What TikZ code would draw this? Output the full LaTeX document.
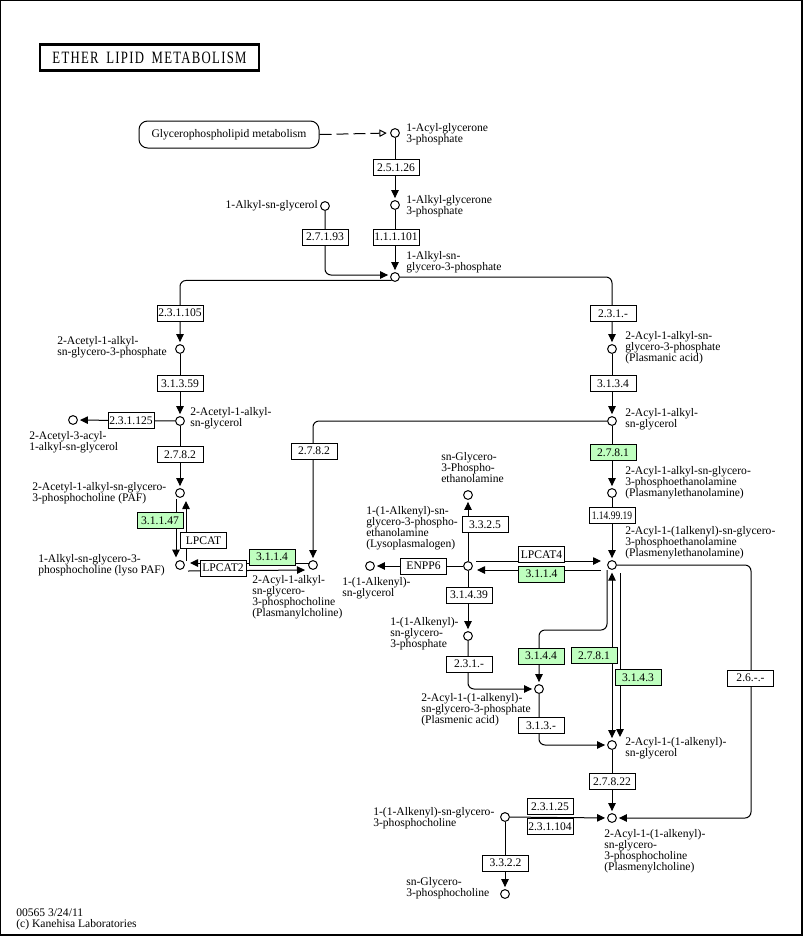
\documentclass[tikz,border=0pt]{standalone}
\usepackage{fontspec}
\setmainfont{Liberation Serif}
\usetikzlibrary{arrows.meta,calc}
\definecolor{kgreen}{HTML}{BFFFBF}
\pgfdeclarelayer{bg}
\pgfsetlayers{bg,main}
\newcommand{\kfont}{\fontsize{8.7}{8.25}\selectfont}
\tikzset{
  cpd/.style={draw, circle, fill=white, minimum size=6.6pt, inner sep=0pt, line width=0.75pt},
  ecbox/.style={draw, fill=white, minimum width=34.5pt, minimum height=12pt, inner sep=0pt, line width=0.75pt, font=\kfont},
  ecgreen/.style={ecbox, fill=kgreen},
  lbl/.style={inner sep=0pt, align=left, font=\kfont},
  rx/.style={line width=0.75pt, ->, shorten >=1.5pt},
  rxc/.style={rx, rounded corners=4.5pt},
}
\begin{document}
\begin{tikzpicture}[x=0.75pt,y=-0.75pt,>={Triangle[length=6pt,width=5.6pt]}]
\useasboundingbox (0,0) rectangle (803,936);
\draw[line width=1.1pt] (0.7,0.7) rectangle (802.2,935.2);

\node[draw, line width=1.7pt, minimum width=164.25pt, minimum height=19.5pt, inner sep=0pt] (title) at (149.5,57.5)
  {\resizebox{145.5pt}{8.6pt}{\addfontfeature{LetterSpace=10}ETHER\hspace{0.6em}LIPID\hspace{0.6em}METABOLISM}};
\node[draw, rounded corners=6.5pt, minimum width=135pt, minimum height=20.25pt, inner sep=0pt, line width=0.75pt, font=\kfont] (map) at (229,134.5) {Glycerophospholipid metabolism};

% compounds
\node[cpd] (c1) at (395,133) {};
\node[cpd] (c2) at (395,205) {};
\node[cpd] (c3) at (325,206) {};
\node[cpd] (c4) at (395,277) {};
\node[cpd] (c5) at (180,349) {};
\node[cpd] (c6) at (180,421) {};
\node[cpd] (c7) at (73,420) {};
\node[cpd] (c8) at (180,493) {};
\node[cpd] (c9) at (180,565) {};
\node[cpd] (c10) at (313,565) {};
\node[cpd] (c11) at (612,349) {};
\node[cpd] (c12) at (612,421) {};
\node[cpd] (c13) at (612,493) {};
\node[cpd] (c14) at (612,565) {};
\node[cpd] (c15) at (468,566) {};
\node[cpd] (c16) at (468,495) {};
\node[cpd] (c17) at (370,566) {};
\node[cpd] (c18) at (468,636) {};
\node[cpd] (c19) at (539,689) {};
\node[cpd] (c20) at (612,745) {};
\node[cpd] (c21) at (612,818) {};
\node[cpd] (c22) at (505,817) {};
\node[cpd] (c23) at (505,894) {};

% enzymes
\node[ecbox] (e25126) at (396,167.5) {2.5.1.26};
\node[ecbox] (e27193) at (325,237) {2.7.1.93};
\node[ecbox] (e111101) at (396,237) {1.1.1.101};
\node[ecbox] (e231105) at (180,313) {2.3.1.105};
\node[ecbox] (e31359) at (180,383.5) {3.1.3.59};
\node[ecbox] (e231125) at (131,420.5) {2.3.1.125};
\node[ecbox] (e2782a) at (180,454.5) {2.7.8.2};
\node[ecgreen] (e31147) at (160,520.5) {3.1.1.47};
\node[ecbox] (elpcat) at (203.5,540.5) {LPCAT};
\node[ecbox] (elpcat2) at (223,568) {LPCAT2};
\node[ecgreen] (e3114a) at (272,557) {3.1.1.4};
\node[ecbox] (e2782b) at (314,451) {2.7.8.2};
\node[ecbox] (e231a) at (613,313.5) {2.3.1.-};
\node[ecbox] (e3134) at (613,383.5) {3.1.3.4};
\node[ecgreen] (e2781a) at (613,452.5) {2.7.8.1};
\node[ecbox] (e1149919) at (612,515.5) {\scalebox{0.82}[1]{1.14.99.19}};
\node[ecbox] (elpcat4) at (541.5,554.5) {LPCAT4};
\node[ecgreen] (e3114b) at (541.5,574) {3.1.1.4};
\node[ecbox] (e3325) at (485,524.5) {3.3.2.5};
\node[ecbox] (eenpp6) at (423.5,566) {ENPP6};
\node[ecbox] (e31439) at (469,595) {3.1.4.39};
\node[ecbox] (e231b) at (469,664) {2.3.1.-};
\node[ecgreen] (e3144) at (541,656) {3.1.4.4};
\node[ecgreen] (e2781b) at (594,655.5) {2.7.8.1};
\node[ecgreen] (e3143) at (638,677.5) {3.1.4.3};
\node[ecbox] (e26) at (750.5,678) {2.6.-.-};
\node[ecbox] (e313) at (541,725.5) {3.1.3.-};
\node[ecbox] (e27822) at (612,781.5) {2.7.8.22};
\node[ecbox] (e23125) at (550,806.5) {2.3.1.25};
\node[ecbox] (e231104) at (550,826.5) {2.3.1.104};
\node[ecbox] (e3322) at (505.5,863) {3.3.2.2};

% labels
\node[lbl, anchor=west] (l1) at (406,134.5) {1-Acyl-glycerone\\3-phosphate};
\node[lbl, anchor=west] (l2) at (406,206) {1-Alkyl-glycerone\\3-phosphate};
\node[lbl, anchor=east] (l3) at (318,206) {1-Alkyl-sn-glycerol};
\node[lbl, anchor=west] (l4) at (406,262.5) {1-Alkyl-sn-\\glycero-3-phosphate};
\node[lbl, anchor=west] (l5) at (57,347.5) {2-Acetyl-1-alkyl-\\sn-glycero-3-phosphate};
\node[lbl, anchor=west] (l6) at (190,418) {2-Acetyl-1-alkyl-\\sn-glycerol};
\node[lbl, anchor=west] (l7) at (29,442.5) {2-Acetyl-3-acyl-\\1-alkyl-sn-glycerol};
\node[lbl, anchor=west] (l8) at (32,493) {2-Acetyl-1-alkyl-sn-glycero-\\3-phosphocholine (PAF)};
\node[lbl, anchor=west] (l9) at (38,565) {1-Alkyl-sn-glycero-3-\\phosphocholine (lyso PAF)};
\node[lbl, anchor=west] (l10) at (252,597) {2-Acyl-1-alkyl-\\sn-glycero-\\3-phosphocholine\\(Plasmanylcholine)};
\node[lbl, anchor=west] (l11) at (625,348) {2-Acyl-1-alkyl-sn-\\glycero-3-phosphate\\(Plasmanic acid)};
\node[lbl, anchor=west] (l12) at (625,419) {2-Acyl-1-alkyl-\\sn-glycerol};
\node[lbl, anchor=west] (l13) at (625,483) {2-Acyl-1-alkyl-sn-glycero-\\3-phosphoethanolamine\\(Plasmanylethanolamine)};
\node[lbl, anchor=west] (l14) at (625,543) {2-Acyl-1-(1alkenyl)-sn-glycero-\\3-phosphoethanolamine\\(Plasmenylethanolamine)};
\node[lbl, anchor=west] (l15) at (366,528.5) {1-(1-Alkenyl)-sn-\\glycero-3-phospho-\\ethanolamine\\(Lysoplasmalogen)};
\node[lbl, anchor=west] (l16) at (441,468) {sn-Glycero-\\3-Phospho-\\ethanolamine};
\node[lbl, anchor=west] (l17) at (342,588) {1-(1-Alkenyl)-\\sn-glycerol};
\node[lbl, anchor=west] (l18) at (390,634) {1-(1-Alkenyl)-\\sn-glycero-\\3-phosphate};
\node[lbl, anchor=west] (l19) at (421,710) {2-Acyl-1-(1-alkenyl)-\\sn-glycero-3-phosphate\\(Plasmenic acid)};
\node[lbl, anchor=west] (l20) at (625,748) {2-Acyl-1-(1-alkenyl)-\\sn-glycerol};
\node[lbl, anchor=west] (l21) at (604,851) {2-Acyl-1-(1-alkenyl)-\\sn-glycero-\\3-phosphocholine\\(Plasmenylcholine)};
\node[lbl, anchor=west] (l22) at (373,818) {1-(1-Alkenyl)-sn-glycero-\\3-phosphocholine};
\node[lbl, anchor=west] (l23) at (406,888) {sn-Glycero-\\3-phosphocholine};
\node[lbl, anchor=west] (foot) at (16,919.5) {00565 3/24/11\\(c) Kanehisa Laboratories};

% connectors
\begin{pgfonlayer}{bg}
\draw[line width=0.75pt, dash pattern=on 9pt off 3.75pt, -{Triangle[open,length=5.5pt,width=5.5pt]}, shorten >=2.5pt] (map.east) -- (c1.west);
\draw[rx] (c1) -- (c2);
\draw[rxc] (c3) |- ($(c4.west)+(0,-2)$);
\draw[rx] (c2) -- (c4);
\draw[rxc] (c4.south west) -| (c5.north);
\draw[rxc] (c4.east) -| (c11.north);
\draw[rx] (c5) -- (c6);
\draw[rx] (c6) -- (c7);
\draw[rx] (c6) -- (c8);
\draw[rx] ($(c8)+(-4,6)$) -- ($(c9)+(-4,-5.5)$);
\draw[rx] ($(c9)+(6,-4)$) -- ($(c8)+(6,6)$);
\draw[rx] ($(c10)+(-4,-2)$) -- ($(c9)+(8,-2)$);
\draw[rx] ($(c9)+(8,6)$) -- ($(c10)+(-6,5)$);
\draw[rxc] (c12.west) -| (c10.north);
\draw[rx] (c11) -- (c12);
\draw[rx] (c12) -- (c13);
\draw[rx] (c13) -- (c14);
\draw[rx] ($(c15)+(8,-5)$) -- ($(c14)+(-9,-4)$);
\draw[rx] ($(c14)+(-11,5)$) -- ($(c15)+(7,4)$);
\draw[rx] (c15) -- (c16);
\draw[rx] (c15) -- (c17);
\draw[rx] (c15) -- (c18);
\draw[rxc] (c18) |- (c19.west);
\draw[rxc] ($(c14)+(-5,5)$) -- ($(c14)+(-5,65)$) -| (c19.north);
\draw[rx, <->, shorten <=2pt] (c14) -- (c20);
\draw[rx] ($(c14)+(8,8)$) -- ($(c20)+(8,-6)$);
\draw[rxc] (c19) |- (c20.west);
\draw[rx] (c20) -- (c21);
\draw[rx] (c22) -- (c21);
\draw[rxc] (c14.east) -| ($(c21)+(139,0)$) -- (c21.east);
\draw[rx] (c22) -- (c23);
\end{pgfonlayer}
\end{tikzpicture}
\end{document}
